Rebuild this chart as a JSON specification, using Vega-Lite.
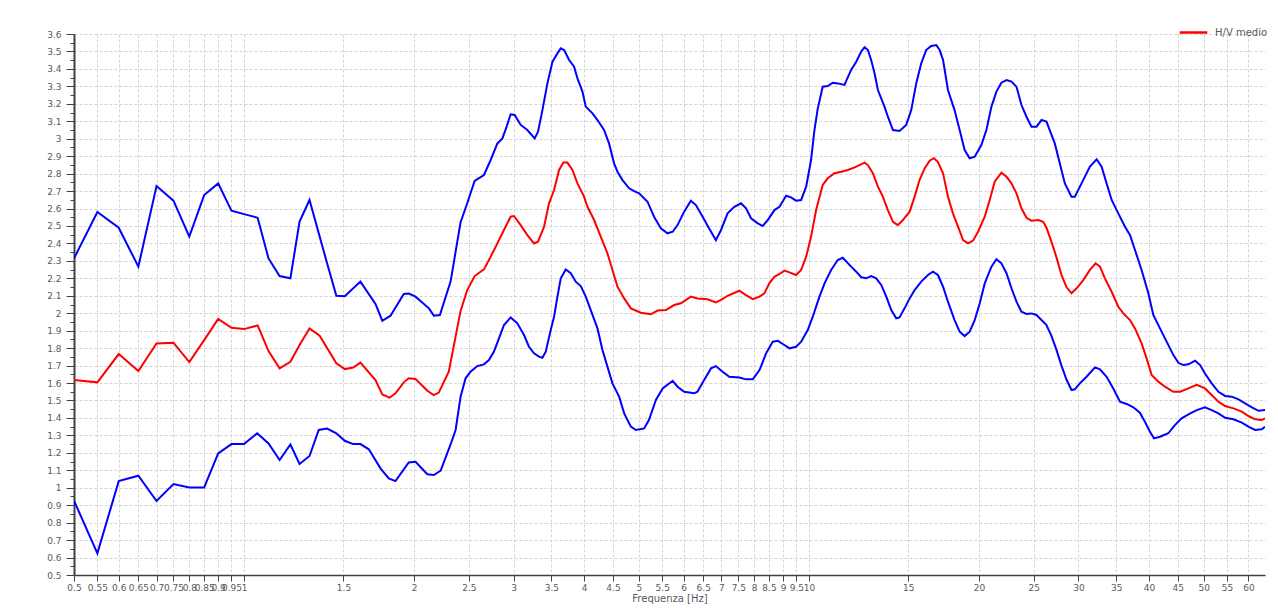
{
  "$schema": "https://vega.github.io/schema/vega-lite/v6.json",
  "width": 1191,
  "height": 541,
  "autosize": {"type": "none"},
  "padding": {"left": 74, "top": 34, "right": 13, "bottom": 33},
  "background": "white",
  "config": {
    "view": {"stroke": null},
    "axis": {"labelFont": "DejaVu Sans", "titleFont": "DejaVu Sans", "labelColor": "#5a5a5a", "titleColor": "#5a5a5a", "labelFontSize": 9, "titleFontSize": 10, "titleFontWeight": "normal", "domainColor": "#404040", "tickColor": "#404040", "gridColor": "#d4d4d4", "gridDash": [3, 2], "gridWidth": 1}
  },
  "datasets": {
    "pts": [
      {"f":0.5,"hv":2.314,"serie":"sup"},{"f":0.55,"hv":2.58,"serie":"sup"},{"f":0.6,"hv":2.49,"serie":"sup"},{"f":0.65,"hv":2.267,"serie":"sup"},{"f":0.7,"hv":2.729,"serie":"sup"},{"f":0.75,"hv":2.645,"serie":"sup"},{"f":0.8,"hv":2.439,"serie":"sup"},{"f":0.85,"hv":2.677,"serie":"sup"},{"f":0.9,"hv":2.744,"serie":"sup"},{"f":0.95,"hv":2.588,"serie":"sup"},{"f":1.0,"hv":2.568,"serie":"sup"},{"f":1.057,"hv":2.547,"serie":"sup"},{"f":1.105,"hv":2.314,"serie":"sup"},{"f":1.156,"hv":2.213,"serie":"sup"},{"f":1.208,"hv":2.2,"serie":"sup"},{"f":1.254,"hv":2.525,"serie":"sup"},{"f":1.306,"hv":2.649,"serie":"sup"},{"f":1.403,"hv":2.286,"serie":"sup"},{"f":1.457,"hv":2.10,"serie":"sup"},{"f":1.508,"hv":2.097,"serie":"sup"},{"f":1.607,"hv":2.181,"serie":"sup"},{"f":1.709,"hv":2.053,"serie":"sup"},{"f":1.757,"hv":1.957,"serie":"sup"},{"f":1.817,"hv":1.986,"serie":"sup"},{"f":1.918,"hv":2.11,"serie":"sup"},{"f":1.957,"hv":2.113,"serie":"sup"},{"f":2.012,"hv":2.095,"serie":"sup"},{"f":2.125,"hv":2.028,"serie":"sup"},{"f":2.168,"hv":1.986,"serie":"sup"},{"f":2.222,"hv":1.99,"serie":"sup"},{"f":2.321,"hv":2.181,"serie":"sup"},{"f":2.417,"hv":2.52,"serie":"sup"},{"f":2.484,"hv":2.63,"serie":"sup"},{"f":2.56,"hv":2.758,"serie":"sup"},{"f":2.659,"hv":2.792,"serie":"sup"},{"f":2.733,"hv":2.878,"serie":"sup"},{"f":2.809,"hv":2.973,"serie":"sup"},{"f":2.867,"hv":3.002,"serie":"sup"},{"f":2.917,"hv":3.069,"serie":"sup"},{"f":2.965,"hv":3.14,"serie":"sup"},{"f":3.014,"hv":3.136,"serie":"sup"},{"f":3.089,"hv":3.079,"serie":"sup"},{"f":3.174,"hv":3.05,"serie":"sup"},{"f":3.27,"hv":3.002,"serie":"sup"},{"f":3.315,"hv":3.04,"serie":"sup"},{"f":3.375,"hv":3.164,"serie":"sup"},{"f":3.444,"hv":3.317,"serie":"sup"},{"f":3.516,"hv":3.441,"serie":"sup"},{"f":3.588,"hv":3.489,"serie":"sup"},{"f":3.637,"hv":3.518,"serie":"sup"},{"f":3.687,"hv":3.508,"serie":"sup"},{"f":3.763,"hv":3.451,"serie":"sup"},{"f":3.84,"hv":3.413,"serie":"sup"},{"f":3.893,"hv":3.346,"serie":"sup"},{"f":3.973,"hv":3.27,"serie":"sup"},{"f":4.027,"hv":3.184,"serie":"sup"},{"f":4.139,"hv":3.145,"serie":"sup"},{"f":4.224,"hv":3.107,"serie":"sup"},{"f":4.339,"hv":3.05,"serie":"sup"},{"f":4.428,"hv":2.973,"serie":"sup"},{"f":4.52,"hv":2.859,"serie":"sup"},{"f":4.583,"hv":2.811,"serie":"sup"},{"f":4.678,"hv":2.763,"serie":"sup"},{"f":4.806,"hv":2.716,"serie":"sup"},{"f":4.905,"hv":2.70,"serie":"sup"},{"f":5.006,"hv":2.687,"serie":"sup"},{"f":5.18,"hv":2.639,"serie":"sup"},{"f":5.32,"hv":2.553,"serie":"sup"},{"f":5.47,"hv":2.486,"serie":"sup"},{"f":5.62,"hv":2.458,"serie":"sup"},{"f":5.74,"hv":2.467,"serie":"sup"},{"f":5.855,"hv":2.505,"serie":"sup"},{"f":6.015,"hv":2.582,"serie":"sup"},{"f":6.18,"hv":2.645,"serie":"sup"},{"f":6.31,"hv":2.62,"serie":"sup"},{"f":6.485,"hv":2.553,"serie":"sup"},{"f":6.66,"hv":2.486,"serie":"sup"},{"f":6.845,"hv":2.419,"serie":"sup"},{"f":6.99,"hv":2.477,"serie":"sup"},{"f":7.18,"hv":2.572,"serie":"sup"},{"f":7.38,"hv":2.61,"serie":"sup"},{"f":7.585,"hv":2.63,"serie":"sup"},{"f":7.74,"hv":2.601,"serie":"sup"},{"f":7.9,"hv":2.544,"serie":"sup"},{"f":8.12,"hv":2.515,"serie":"sup"},{"f":8.285,"hv":2.50,"serie":"sup"},{"f":8.455,"hv":2.534,"serie":"sup"},{"f":8.69,"hv":2.591,"serie":"sup"},{"f":8.87,"hv":2.61,"serie":"sup"},{"f":9.115,"hv":2.673,"serie":"sup"},{"f":9.3,"hv":2.664,"serie":"sup"},{"f":9.49,"hv":2.645,"serie":"sup"},{"f":9.69,"hv":2.649,"serie":"sup"},{"f":9.89,"hv":2.725,"serie":"sup"},{"f":10.09,"hv":2.878,"serie":"sup"},{"f":10.23,"hv":3.05,"serie":"sup"},{"f":10.37,"hv":3.174,"serie":"sup"},{"f":10.58,"hv":3.298,"serie":"sup"},{"f":10.8,"hv":3.302,"serie":"sup"},{"f":11.02,"hv":3.321,"serie":"sup"},{"f":11.25,"hv":3.317,"serie":"sup"},{"f":11.56,"hv":3.308,"serie":"sup"},{"f":11.88,"hv":3.394,"serie":"sup"},{"f":12.13,"hv":3.441,"serie":"sup"},{"f":12.38,"hv":3.499,"serie":"sup"},{"f":12.55,"hv":3.524,"serie":"sup"},{"f":12.72,"hv":3.508,"serie":"sup"},{"f":12.89,"hv":3.451,"serie":"sup"},{"f":13.07,"hv":3.375,"serie":"sup"},{"f":13.25,"hv":3.279,"serie":"sup"},{"f":13.61,"hv":3.184,"serie":"sup"},{"f":13.8,"hv":3.126,"serie":"sup"},{"f":14.09,"hv":3.05,"serie":"sup"},{"f":14.47,"hv":3.044,"serie":"sup"},{"f":14.87,"hv":3.079,"serie":"sup"},{"f":15.18,"hv":3.164,"serie":"sup"},{"f":15.49,"hv":3.317,"serie":"sup"},{"f":15.81,"hv":3.432,"serie":"sup"},{"f":16.13,"hv":3.508,"serie":"sup"},{"f":16.47,"hv":3.531,"serie":"sup"},{"f":16.81,"hv":3.537,"serie":"sup"},{"f":17.04,"hv":3.508,"serie":"sup"},{"f":17.28,"hv":3.451,"serie":"sup"},{"f":17.63,"hv":3.279,"serie":"sup"},{"f":18.11,"hv":3.164,"serie":"sup"},{"f":18.49,"hv":3.05,"serie":"sup"},{"f":18.87,"hv":2.935,"serie":"sup"},{"f":19.26,"hv":2.888,"serie":"sup"},{"f":19.66,"hv":2.897,"serie":"sup"},{"f":20.2,"hv":2.964,"serie":"sup"},{"f":20.62,"hv":3.05,"serie":"sup"},{"f":21.05,"hv":3.184,"serie":"sup"},{"f":21.48,"hv":3.27,"serie":"sup"},{"f":21.92,"hv":3.321,"serie":"sup"},{"f":22.38,"hv":3.336,"serie":"sup"},{"f":22.84,"hv":3.327,"serie":"sup"},{"f":23.31,"hv":3.298,"serie":"sup"},{"f":23.79,"hv":3.193,"serie":"sup"},{"f":24.28,"hv":3.126,"serie":"sup"},{"f":24.78,"hv":3.069,"serie":"sup"},{"f":25.29,"hv":3.069,"serie":"sup"},{"f":25.81,"hv":3.107,"serie":"sup"},{"f":26.34,"hv":3.098,"serie":"sup"},{"f":27.25,"hv":2.973,"serie":"sup"},{"f":27.81,"hv":2.859,"serie":"sup"},{"f":28.39,"hv":2.744,"serie":"sup"},{"f":29.17,"hv":2.668,"serie":"sup"},{"f":29.57,"hv":2.668,"serie":"sup"},{"f":30.39,"hv":2.744,"serie":"sup"},{"f":31.45,"hv":2.84,"serie":"sup"},{"f":32.32,"hv":2.882,"serie":"sup"},{"f":32.98,"hv":2.84,"serie":"sup"},{"f":33.66,"hv":2.744,"serie":"sup"},{"f":34.36,"hv":2.649,"serie":"sup"},{"f":35.3,"hv":2.572,"serie":"sup"},{"f":36.28,"hv":2.496,"serie":"sup"},{"f":37.02,"hv":2.448,"serie":"sup"},{"f":37.79,"hv":2.362,"serie":"sup"},{"f":38.82,"hv":2.248,"serie":"sup"},{"f":39.9,"hv":2.114,"serie":"sup"},{"f":40.72,"hv":1.99,"serie":"sup"},{"f":41.84,"hv":1.913,"serie":"sup"},{"f":42.99,"hv":1.837,"serie":"sup"},{"f":44.19,"hv":1.76,"serie":"sup"},{"f":45.1,"hv":1.716,"serie":"sup"},{"f":46.03,"hv":1.703,"serie":"sup"},{"f":46.99,"hv":1.707,"serie":"sup"},{"f":48.28,"hv":1.728,"serie":"sup"},{"f":49.28,"hv":1.703,"serie":"sup"},{"f":50.27,"hv":1.655,"serie":"sup"},{"f":51.66,"hv":1.598,"serie":"sup"},{"f":53.1,"hv":1.55,"serie":"sup"},{"f":54.56,"hv":1.526,"serie":"sup"},{"f":56.07,"hv":1.522,"serie":"sup"},{"f":57.63,"hv":1.506,"serie":"sup"},{"f":59.21,"hv":1.484,"serie":"sup"},{"f":60.85,"hv":1.461,"serie":"sup"},{"f":62.53,"hv":1.441,"serie":"sup"},{"f":64.2,"hv":1.445,"serie":"sup"},

      {"f":0.5,"hv":1.617,"serie":"H/V medio"},{"f":0.55,"hv":1.604,"serie":"H/V medio"},{"f":0.6,"hv":1.766,"serie":"H/V medio"},{"f":0.65,"hv":1.669,"serie":"H/V medio"},{"f":0.7,"hv":1.827,"serie":"H/V medio"},{"f":0.75,"hv":1.831,"serie":"H/V medio"},{"f":0.8,"hv":1.72,"serie":"H/V medio"},{"f":0.85,"hv":1.846,"serie":"H/V medio"},{"f":0.9,"hv":1.967,"serie":"H/V medio"},{"f":0.95,"hv":1.917,"serie":"H/V medio"},{"f":1.0,"hv":1.909,"serie":"H/V medio"},{"f":1.057,"hv":1.93,"serie":"H/V medio"},{"f":1.105,"hv":1.783,"serie":"H/V medio"},{"f":1.156,"hv":1.684,"serie":"H/V medio"},{"f":1.208,"hv":1.722,"serie":"H/V medio"},{"f":1.254,"hv":1.818,"serie":"H/V medio"},{"f":1.306,"hv":1.913,"serie":"H/V medio"},{"f":1.361,"hv":1.871,"serie":"H/V medio"},{"f":1.457,"hv":1.713,"serie":"H/V medio"},{"f":1.508,"hv":1.68,"serie":"H/V medio"},{"f":1.56,"hv":1.689,"serie":"H/V medio"},{"f":1.607,"hv":1.717,"serie":"H/V medio"},{"f":1.709,"hv":1.617,"serie":"H/V medio"},{"f":1.757,"hv":1.535,"serie":"H/V medio"},{"f":1.811,"hv":1.516,"serie":"H/V medio"},{"f":1.854,"hv":1.541,"serie":"H/V medio"},{"f":1.918,"hv":1.604,"serie":"H/V medio"},{"f":1.957,"hv":1.627,"serie":"H/V medio"},{"f":2.012,"hv":1.623,"serie":"H/V medio"},{"f":2.111,"hv":1.556,"serie":"H/V medio"},{"f":2.168,"hv":1.531,"serie":"H/V medio"},{"f":2.212,"hv":1.545,"serie":"H/V medio"},{"f":2.304,"hv":1.665,"serie":"H/V medio"},{"f":2.417,"hv":2.012,"serie":"H/V medio"},{"f":2.484,"hv":2.133,"serie":"H/V medio"},{"f":2.56,"hv":2.213,"serie":"H/V medio"},{"f":2.659,"hv":2.251,"serie":"H/V medio"},{"f":2.733,"hv":2.324,"serie":"H/V medio"},{"f":2.809,"hv":2.40,"serie":"H/V medio"},{"f":2.885,"hv":2.477,"serie":"H/V medio"},{"f":2.965,"hv":2.553,"serie":"H/V medio"},{"f":3.005,"hv":2.557,"serie":"H/V medio"},{"f":3.089,"hv":2.505,"serie":"H/V medio"},{"f":3.174,"hv":2.448,"serie":"H/V medio"},{"f":3.261,"hv":2.40,"serie":"H/V medio"},{"f":3.315,"hv":2.41,"serie":"H/V medio"},{"f":3.398,"hv":2.496,"serie":"H/V medio"},{"f":3.467,"hv":2.63,"serie":"H/V medio"},{"f":3.539,"hv":2.706,"serie":"H/V medio"},{"f":3.612,"hv":2.821,"serie":"H/V medio"},{"f":3.676,"hv":2.863,"serie":"H/V medio"},{"f":3.737,"hv":2.863,"serie":"H/V medio"},{"f":3.814,"hv":2.821,"serie":"H/V medio"},{"f":3.893,"hv":2.744,"serie":"H/V medio"},{"f":3.999,"hv":2.668,"serie":"H/V medio"},{"f":4.055,"hv":2.61,"serie":"H/V medio"},{"f":4.167,"hv":2.534,"serie":"H/V medio"},{"f":4.281,"hv":2.439,"serie":"H/V medio"},{"f":4.399,"hv":2.343,"serie":"H/V medio"},{"f":4.49,"hv":2.248,"serie":"H/V medio"},{"f":4.583,"hv":2.152,"serie":"H/V medio"},{"f":4.71,"hv":2.085,"serie":"H/V medio"},{"f":4.84,"hv":2.028,"serie":"H/V medio"},{"f":5.04,"hv":2.003,"serie":"H/V medio"},{"f":5.25,"hv":1.994,"serie":"H/V medio"},{"f":5.397,"hv":2.015,"serie":"H/V medio"},{"f":5.58,"hv":2.018,"serie":"H/V medio"},{"f":5.775,"hv":2.047,"serie":"H/V medio"},{"f":5.935,"hv":2.057,"serie":"H/V medio"},{"f":6.18,"hv":2.095,"serie":"H/V medio"},{"f":6.35,"hv":2.085,"serie":"H/V medio"},{"f":6.615,"hv":2.08,"serie":"H/V medio"},{"f":6.845,"hv":2.062,"serie":"H/V medio"},{"f":6.99,"hv":2.076,"serie":"H/V medio"},{"f":7.18,"hv":2.10,"serie":"H/V medio"},{"f":7.53,"hv":2.129,"serie":"H/V medio"},{"f":7.74,"hv":2.104,"serie":"H/V medio"},{"f":7.955,"hv":2.081,"serie":"H/V medio"},{"f":8.177,"hv":2.095,"serie":"H/V medio"},{"f":8.34,"hv":2.114,"serie":"H/V medio"},{"f":8.51,"hv":2.171,"serie":"H/V medio"},{"f":8.69,"hv":2.209,"serie":"H/V medio"},{"f":8.87,"hv":2.225,"serie":"H/V medio"},{"f":9.05,"hv":2.244,"serie":"H/V medio"},{"f":9.24,"hv":2.234,"serie":"H/V medio"},{"f":9.49,"hv":2.219,"serie":"H/V medio"},{"f":9.69,"hv":2.248,"serie":"H/V medio"},{"f":9.89,"hv":2.324,"serie":"H/V medio"},{"f":10.09,"hv":2.439,"serie":"H/V medio"},{"f":10.3,"hv":2.591,"serie":"H/V medio"},{"f":10.58,"hv":2.735,"serie":"H/V medio"},{"f":10.8,"hv":2.773,"serie":"H/V medio"},{"f":11.1,"hv":2.802,"serie":"H/V medio"},{"f":11.41,"hv":2.811,"serie":"H/V medio"},{"f":11.72,"hv":2.821,"serie":"H/V medio"},{"f":12.05,"hv":2.836,"serie":"H/V medio"},{"f":12.29,"hv":2.849,"serie":"H/V medio"},{"f":12.55,"hv":2.863,"serie":"H/V medio"},{"f":12.72,"hv":2.849,"serie":"H/V medio"},{"f":12.98,"hv":2.802,"serie":"H/V medio"},{"f":13.25,"hv":2.725,"serie":"H/V medio"},{"f":13.52,"hv":2.668,"serie":"H/V medio"},{"f":13.8,"hv":2.591,"serie":"H/V medio"},{"f":14.09,"hv":2.524,"serie":"H/V medio"},{"f":14.37,"hv":2.505,"serie":"H/V medio"},{"f":14.67,"hv":2.534,"serie":"H/V medio"},{"f":15.08,"hv":2.582,"serie":"H/V medio"},{"f":15.39,"hv":2.668,"serie":"H/V medio"},{"f":15.7,"hv":2.763,"serie":"H/V medio"},{"f":16.03,"hv":2.83,"serie":"H/V medio"},{"f":16.36,"hv":2.874,"serie":"H/V medio"},{"f":16.65,"hv":2.888,"serie":"H/V medio"},{"f":16.92,"hv":2.868,"serie":"H/V medio"},{"f":17.28,"hv":2.802,"serie":"H/V medio"},{"f":17.63,"hv":2.668,"serie":"H/V medio"},{"f":17.99,"hv":2.572,"serie":"H/V medio"},{"f":18.37,"hv":2.496,"serie":"H/V medio"},{"f":18.75,"hv":2.419,"serie":"H/V medio"},{"f":19.14,"hv":2.40,"serie":"H/V medio"},{"f":19.53,"hv":2.416,"serie":"H/V medio"},{"f":19.93,"hv":2.467,"serie":"H/V medio"},{"f":20.48,"hv":2.553,"serie":"H/V medio"},{"f":20.9,"hv":2.649,"serie":"H/V medio"},{"f":21.33,"hv":2.754,"serie":"H/V medio"},{"f":21.92,"hv":2.805,"serie":"H/V medio"},{"f":22.38,"hv":2.782,"serie":"H/V medio"},{"f":22.84,"hv":2.744,"serie":"H/V medio"},{"f":23.31,"hv":2.687,"serie":"H/V medio"},{"f":23.79,"hv":2.601,"serie":"H/V medio"},{"f":24.28,"hv":2.547,"serie":"H/V medio"},{"f":24.78,"hv":2.53,"serie":"H/V medio"},{"f":25.47,"hv":2.534,"serie":"H/V medio"},{"f":25.99,"hv":2.524,"serie":"H/V medio"},{"f":26.34,"hv":2.49,"serie":"H/V medio"},{"f":26.88,"hv":2.41,"serie":"H/V medio"},{"f":27.44,"hv":2.32,"serie":"H/V medio"},{"f":28,"hv":2.22,"serie":"H/V medio"},{"f":28.58,"hv":2.15,"serie":"H/V medio"},{"f":29.17,"hv":2.114,"serie":"H/V medio"},{"f":29.78,"hv":2.143,"serie":"H/V medio"},{"f":30.6,"hv":2.19,"serie":"H/V medio"},{"f":31.45,"hv":2.248,"serie":"H/V medio"},{"f":32.18,"hv":2.286,"serie":"H/V medio"},{"f":32.76,"hv":2.267,"serie":"H/V medio"},{"f":33.43,"hv":2.20,"serie":"H/V medio"},{"f":34.36,"hv":2.123,"serie":"H/V medio"},{"f":35.3,"hv":2.037,"serie":"H/V medio"},{"f":36.04,"hv":1.999,"serie":"H/V medio"},{"f":37.02,"hv":1.961,"serie":"H/V medio"},{"f":37.79,"hv":1.913,"serie":"H/V medio"},{"f":38.82,"hv":1.827,"serie":"H/V medio"},{"f":39.62,"hv":1.741,"serie":"H/V medio"},{"f":40.44,"hv":1.646,"serie":"H/V medio"},{"f":41.57,"hv":1.608,"serie":"H/V medio"},{"f":42.7,"hv":1.579,"serie":"H/V medio"},{"f":44.19,"hv":1.55,"serie":"H/V medio"},{"f":45.4,"hv":1.55,"serie":"H/V medio"},{"f":46.99,"hv":1.569,"serie":"H/V medio"},{"f":48.6,"hv":1.589,"serie":"H/V medio"},{"f":50.27,"hv":1.569,"serie":"H/V medio"},{"f":51.66,"hv":1.531,"serie":"H/V medio"},{"f":53.1,"hv":1.493,"serie":"H/V medio"},{"f":54.56,"hv":1.468,"serie":"H/V medio"},{"f":56.45,"hv":1.455,"serie":"H/V medio"},{"f":58.42,"hv":1.436,"serie":"H/V medio"},{"f":60.0,"hv":1.411,"serie":"H/V medio"},{"f":61.65,"hv":1.392,"serie":"H/V medio"},{"f":63.35,"hv":1.388,"serie":"H/V medio"},{"f":64.2,"hv":1.398,"serie":"H/V medio"},

      {"f":0.5,"hv":0.926,"serie":"inf"},{"f":0.55,"hv":0.624,"serie":"inf"},{"f":0.6,"hv":1.038,"serie":"inf"},{"f":0.65,"hv":1.069,"serie":"inf"},{"f":0.7,"hv":0.924,"serie":"inf"},{"f":0.75,"hv":1.021,"serie":"inf"},{"f":0.8,"hv":1.002,"serie":"inf"},{"f":0.85,"hv":1.002,"serie":"inf"},{"f":0.9,"hv":1.197,"serie":"inf"},{"f":0.95,"hv":1.25,"serie":"inf"},{"f":1.0,"hv":1.25,"serie":"inf"},{"f":1.055,"hv":1.312,"serie":"inf"},{"f":1.105,"hv":1.254,"serie":"inf"},{"f":1.156,"hv":1.159,"serie":"inf"},{"f":1.208,"hv":1.248,"serie":"inf"},{"f":1.254,"hv":1.136,"serie":"inf"},{"f":1.306,"hv":1.182,"serie":"inf"},{"f":1.356,"hv":1.331,"serie":"inf"},{"f":1.403,"hv":1.339,"serie":"inf"},{"f":1.457,"hv":1.312,"serie":"inf"},{"f":1.508,"hv":1.269,"serie":"inf"},{"f":1.56,"hv":1.25,"serie":"inf"},{"f":1.607,"hv":1.25,"serie":"inf"},{"f":1.663,"hv":1.22,"serie":"inf"},{"f":1.744,"hv":1.111,"serie":"inf"},{"f":1.804,"hv":1.054,"serie":"inf"},{"f":1.854,"hv":1.038,"serie":"inf"},{"f":1.957,"hv":1.145,"serie":"inf"},{"f":2.012,"hv":1.149,"serie":"inf"},{"f":2.111,"hv":1.077,"serie":"inf"},{"f":2.168,"hv":1.073,"serie":"inf"},{"f":2.229,"hv":1.098,"serie":"inf"},{"f":2.321,"hv":1.248,"serie":"inf"},{"f":2.369,"hv":1.331,"serie":"inf"},{"f":2.417,"hv":1.52,"serie":"inf"},{"f":2.467,"hv":1.627,"serie":"inf"},{"f":2.518,"hv":1.665,"serie":"inf"},{"f":2.588,"hv":1.697,"serie":"inf"},{"f":2.659,"hv":1.707,"serie":"inf"},{"f":2.714,"hv":1.732,"serie":"inf"},{"f":2.77,"hv":1.78,"serie":"inf"},{"f":2.827,"hv":1.856,"serie":"inf"},{"f":2.885,"hv":1.932,"serie":"inf"},{"f":2.965,"hv":1.976,"serie":"inf"},{"f":3.047,"hv":1.942,"serie":"inf"},{"f":3.131,"hv":1.875,"serie":"inf"},{"f":3.195,"hv":1.808,"serie":"inf"},{"f":3.261,"hv":1.77,"serie":"inf"},{"f":3.328,"hv":1.751,"serie":"inf"},{"f":3.375,"hv":1.745,"serie":"inf"},{"f":3.421,"hv":1.78,"serie":"inf"},{"f":3.491,"hv":1.904,"serie":"inf"},{"f":3.539,"hv":1.98,"serie":"inf"},{"f":3.588,"hv":2.095,"serie":"inf"},{"f":3.637,"hv":2.20,"serie":"inf"},{"f":3.712,"hv":2.251,"serie":"inf"},{"f":3.788,"hv":2.229,"serie":"inf"},{"f":3.866,"hv":2.181,"serie":"inf"},{"f":3.946,"hv":2.156,"serie":"inf"},{"f":4.027,"hv":2.095,"serie":"inf"},{"f":4.11,"hv":2.018,"serie":"inf"},{"f":4.224,"hv":1.913,"serie":"inf"},{"f":4.311,"hv":1.789,"serie":"inf"},{"f":4.399,"hv":1.694,"serie":"inf"},{"f":4.49,"hv":1.598,"serie":"inf"},{"f":4.614,"hv":1.522,"serie":"inf"},{"f":4.71,"hv":1.426,"serie":"inf"},{"f":4.84,"hv":1.35,"serie":"inf"},{"f":4.94,"hv":1.331,"serie":"inf"},{"f":5.11,"hv":1.34,"serie":"inf"},{"f":5.21,"hv":1.388,"serie":"inf"},{"f":5.36,"hv":1.503,"serie":"inf"},{"f":5.51,"hv":1.569,"serie":"inf"},{"f":5.74,"hv":1.613,"serie":"inf"},{"f":5.855,"hv":1.579,"serie":"inf"},{"f":6.015,"hv":1.55,"serie":"inf"},{"f":6.267,"hv":1.541,"serie":"inf"},{"f":6.35,"hv":1.55,"serie":"inf"},{"f":6.525,"hv":1.617,"serie":"inf"},{"f":6.71,"hv":1.684,"serie":"inf"},{"f":6.845,"hv":1.697,"serie":"inf"},{"f":7.035,"hv":1.665,"serie":"inf"},{"f":7.23,"hv":1.636,"serie":"inf"},{"f":7.53,"hv":1.632,"serie":"inf"},{"f":7.74,"hv":1.621,"serie":"inf"},{"f":7.955,"hv":1.621,"serie":"inf"},{"f":8.177,"hv":1.674,"serie":"inf"},{"f":8.4,"hv":1.77,"serie":"inf"},{"f":8.63,"hv":1.837,"serie":"inf"},{"f":8.81,"hv":1.842,"serie":"inf"},{"f":9.05,"hv":1.818,"serie":"inf"},{"f":9.24,"hv":1.799,"serie":"inf"},{"f":9.49,"hv":1.808,"serie":"inf"},{"f":9.69,"hv":1.837,"serie":"inf"},{"f":9.955,"hv":1.904,"serie":"inf"},{"f":10.16,"hv":1.98,"serie":"inf"},{"f":10.44,"hv":2.095,"serie":"inf"},{"f":10.66,"hv":2.171,"serie":"inf"},{"f":10.95,"hv":2.248,"serie":"inf"},{"f":11.25,"hv":2.305,"serie":"inf"},{"f":11.48,"hv":2.318,"serie":"inf"},{"f":11.88,"hv":2.267,"serie":"inf"},{"f":12.13,"hv":2.238,"serie":"inf"},{"f":12.38,"hv":2.206,"serie":"inf"},{"f":12.63,"hv":2.20,"serie":"inf"},{"f":12.89,"hv":2.213,"serie":"inf"},{"f":13.16,"hv":2.20,"serie":"inf"},{"f":13.43,"hv":2.162,"serie":"inf"},{"f":13.71,"hv":2.095,"serie":"inf"},{"f":13.99,"hv":2.018,"serie":"inf"},{"f":14.28,"hv":1.971,"serie":"inf"},{"f":14.47,"hv":1.976,"serie":"inf"},{"f":14.77,"hv":2.028,"serie":"inf"},{"f":15.08,"hv":2.085,"serie":"inf"},{"f":15.39,"hv":2.133,"serie":"inf"},{"f":15.81,"hv":2.181,"serie":"inf"},{"f":16.25,"hv":2.219,"serie":"inf"},{"f":16.58,"hv":2.238,"serie":"inf"},{"f":16.92,"hv":2.219,"serie":"inf"},{"f":17.28,"hv":2.152,"serie":"inf"},{"f":17.63,"hv":2.066,"serie":"inf"},{"f":18.11,"hv":1.961,"serie":"inf"},{"f":18.49,"hv":1.894,"serie":"inf"},{"f":18.87,"hv":1.869,"serie":"inf"},{"f":19.26,"hv":1.894,"serie":"inf"},{"f":19.66,"hv":1.961,"serie":"inf"},{"f":20.07,"hv":2.057,"serie":"inf"},{"f":20.48,"hv":2.171,"serie":"inf"},{"f":21.05,"hv":2.267,"serie":"inf"},{"f":21.48,"hv":2.309,"serie":"inf"},{"f":21.92,"hv":2.286,"serie":"inf"},{"f":22.38,"hv":2.229,"serie":"inf"},{"f":22.84,"hv":2.143,"serie":"inf"},{"f":23.31,"hv":2.066,"serie":"inf"},{"f":23.79,"hv":2.009,"serie":"inf"},{"f":24.28,"hv":1.996,"serie":"inf"},{"f":24.78,"hv":1.999,"serie":"inf"},{"f":25.29,"hv":1.99,"serie":"inf"},{"f":25.81,"hv":1.961,"serie":"inf"},{"f":26.34,"hv":1.932,"serie":"inf"},{"f":26.88,"hv":1.87,"serie":"inf"},{"f":27.44,"hv":1.79,"serie":"inf"},{"f":28,"hv":1.70,"serie":"inf"},{"f":28.58,"hv":1.62,"serie":"inf"},{"f":29.17,"hv":1.56,"serie":"inf"},{"f":29.57,"hv":1.564,"serie":"inf"},{"f":30.18,"hv":1.598,"serie":"inf"},{"f":31.02,"hv":1.636,"serie":"inf"},{"f":32.1,"hv":1.69,"serie":"inf"},{"f":32.76,"hv":1.679,"serie":"inf"},{"f":33.66,"hv":1.636,"serie":"inf"},{"f":34.59,"hv":1.569,"serie":"inf"},{"f":35.54,"hv":1.493,"serie":"inf"},{"f":36.53,"hv":1.48,"serie":"inf"},{"f":37.54,"hv":1.461,"serie":"inf"},{"f":38.55,"hv":1.43,"serie":"inf"},{"f":39.35,"hv":1.378,"serie":"inf"},{"f":40.17,"hv":1.321,"serie":"inf"},{"f":40.84,"hv":1.283,"serie":"inf"},{"f":41.84,"hv":1.292,"serie":"inf"},{"f":43.29,"hv":1.312,"serie":"inf"},{"f":44.47,"hv":1.359,"serie":"inf"},{"f":45.7,"hv":1.398,"serie":"inf"},{"f":46.99,"hv":1.421,"serie":"inf"},{"f":48.6,"hv":1.445,"serie":"inf"},{"f":50.27,"hv":1.461,"serie":"inf"},{"f":51.66,"hv":1.445,"serie":"inf"},{"f":53.1,"hv":1.426,"serie":"inf"},{"f":54.56,"hv":1.401,"serie":"inf"},{"f":56.45,"hv":1.392,"serie":"inf"},{"f":58.42,"hv":1.373,"serie":"inf"},{"f":60.0,"hv":1.35,"serie":"inf"},{"f":61.65,"hv":1.331,"serie":"inf"},{"f":63.35,"hv":1.335,"serie":"inf"},{"f":64.2,"hv":1.35,"serie":"inf"}
    ]
  },
  "data": {"name": "pts"},
  "mark": {"type": "line", "strokeWidth": 2, "interpolate": "linear", "clip": true},
  "encoding": {
    "x": {
      "field": "f", "type": "quantitative",
      "scale": {"type": "log", "domain": [0.5, 64.2], "nice": false},
      "axis": {
        "title": "Frequenza [Hz]", "titlePadding": 1,
        "values": [0.5,0.55,0.6,0.65,0.7,0.75,0.8,0.85,0.9,0.95,1,1.5,2,2.5,3,3.5,4,4.5,5,5.5,6,6.5,7,7.5,8,8.5,9,9.5,10,15,20,25,30,35,40,45,50,55,60],
        "format": "~g", "labelOverlap": false, "labelFlush": false, "labelPadding": 2,
        "tickSize": 6, "domainWidth": 1.5, "grid": true
      }
    },
    "y": {
      "field": "hv", "type": "quantitative",
      "scale": {"domain": [0.5, 3.6], "nice": false, "zero": false},
      "axis": {
        "title": null,
        "values": [0.5,0.55,0.6,0.65,0.7,0.75,0.8,0.85,0.9,0.95,1,1.05,1.1,1.15,1.2,1.25,1.3,1.35,1.4,1.45,1.5,1.55,1.6,1.65,1.7,1.75,1.8,1.85,1.9,1.95,2,2.05,2.1,2.15,2.2,2.25,2.3,2.35,2.4,2.45,2.5,2.55,2.6,2.65,2.7,2.75,2.8,2.85,2.9,2.95,3,3.05,3.1,3.15,3.2,3.25,3.3,3.35,3.4,3.45,3.5,3.55,3.6],
        "labelExpr": "abs(datum.value*10 - round(datum.value*10)) < 0.001 ? format(datum.value, '~g') : ''",
        "labelOverlap": false, "labelFlush": false, "labelPadding": 5,
        "tickSize": {"condition": {"test": "abs(datum.value*10 - round(datum.value*10)) < 0.001", "value": 8}, "value": 4},
        "gridOpacity": {"condition": {"test": "abs(datum.value*10 - round(datum.value*10)) < 0.001", "value": 1}, "value": 0},
        "domainWidth": 2, "grid": true
      }
    },
    "color": {
      "field": "serie", "type": "nominal",
      "scale": {"domain": ["H/V medio", "sup", "inf"], "range": ["#ff0000", "#0000ff", "#0000ff"]},
      "legend": {
        "title": null, "values": ["H/V medio"], "orient": "none", "legendX": 1104, "legendY": -17,
        "symbolType": "stroke", "symbolStrokeWidth": 2.5, "symbolSize": 760, "labelOffset": 6,
        "labelFont": "DejaVu Sans", "labelFontSize": 10, "labelColor": "#5a5a5a"
      }
    }
  }
}
